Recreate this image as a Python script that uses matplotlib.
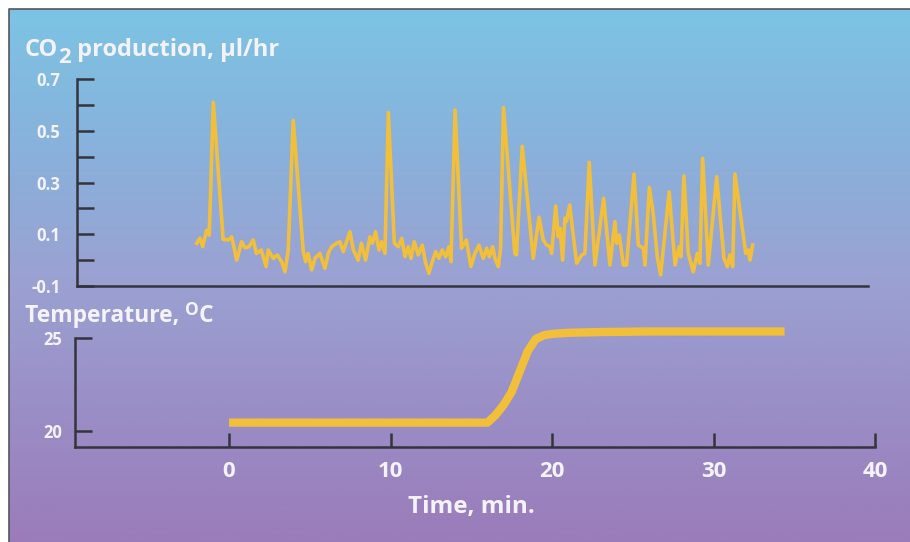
import numpy as np
import matplotlib
matplotlib.use("Agg")
import matplotlib.pyplot as plt
from matplotlib.colors import LinearSegmentedColormap
from matplotlib.lines import Line2D

# CO2 trace (time in min, CO2 in ul/hr)
co2_time = [-2.0, -1.8, -1.63, -1.38, -1.22, -0.97, -0.36, -0.04, 0.17, 0.48,
            0.78, 1.0, 1.24, 1.5, 1.7, 2.0, 2.3, 2.43, 2.74, 3.0,
            3.26, 3.47, 3.67, 3.98, 4.6, 4.75, 4.9, 5.12, 5.33, 5.63,
            5.94, 6.15, 6.36, 6.67, 6.87, 7.08, 7.49, 7.7, 8.0, 8.2,
            8.46, 8.73, 8.88, 9.08, 9.29, 9.45, 9.66, 9.87, 10.24, 10.48,
            10.7, 10.9, 11.1, 11.27, 11.47, 11.72, 11.97, 12.18, 12.38, 12.59,
            12.8, 13.0, 13.2, 13.42, 13.62, 13.75, 14.0, 14.4, 14.7, 14.98,
            15.23, 15.48, 15.75, 15.96, 16.12, 16.33, 16.47, 16.68, 16.82, 17.0,
            17.7, 17.8, 18.16, 18.84, 19.2, 19.46, 19.67, 19.88, 19.98, 20.23,
            20.39, 20.5, 20.66, 20.8, 20.9, 21.1, 21.28, 21.53, 21.84, 22.04,
            22.31, 22.66, 23.2, 23.59, 23.9, 24.0, 24.17, 24.42, 24.62, 25.08,
            25.35, 25.66, 25.76, 26.03, 26.27, 26.52, 26.73, 27.26, 27.62, 27.88,
            27.99, 28.17, 28.44, 28.75, 29.0, 29.16, 29.33, 29.68, 30.2, 30.65,
            30.86, 31.02, 31.19, 31.33, 32.0, 32.16, 32.26, 32.43]
co2_value = [0.065, 0.085, 0.052, 0.116, 0.097, 0.61, 0.08, 0.078, 0.09, 0.0,
             0.071, 0.047, 0.052, 0.078, 0.026, 0.039, -0.025, 0.039, 0.007, 0.02,
             -0.006, -0.045, 0.039, 0.54, 0.033, -0.006, 0.026, -0.038, 0.007, 0.026,
             -0.032, 0.026, 0.052, 0.065, 0.071, 0.033, 0.11, 0.039, 0.0, 0.065,
             0.0, 0.09, 0.065, 0.11, 0.039, 0.071, 0.026, 0.57, 0.065, 0.052,
             0.084, 0.013, 0.052, 0.007, 0.071, 0.02, 0.058, -0.012, -0.051, -0.006,
             0.033, 0.007, 0.039, 0.013, 0.052, -0.006, 0.58, 0.046, 0.078, -0.025,
             0.026, 0.058, 0.007, 0.046, 0.013, 0.052, 0.007, -0.025, 0.046, 0.59,
             0.026, 0.02, 0.44, 0.007, 0.166, 0.078, 0.058, 0.052, 0.026, 0.209,
             0.09, 0.123, 0.0, 0.162, 0.149, 0.213, 0.116, -0.012, 0.02, 0.026,
             0.378, -0.019, 0.239, -0.019, 0.149, 0.065, 0.097, -0.019, -0.019, 0.333,
             0.058, 0.046, -0.019, 0.281, 0.181, 0.013, -0.057, 0.264, -0.019, 0.052,
             0.013, 0.325, 0.026, -0.045, 0.026, -0.012, 0.394, -0.019, 0.322, 0.007,
             -0.025, 0.02, -0.025, 0.333, 0.026, 0.039, 0.0, 0.058]

# temperature trace (time in min, deg C)
temp_time = [0, 16.0, 16.5, 17.0, 17.5, 18.0, 18.5, 19.0, 19.5, 20.0, 21.0, 23.0, 26.0, 34.4]
temp_value = [20.45, 20.45, 20.85, 21.4, 22.1, 23.2, 24.3, 24.95, 25.15, 25.22, 25.28, 25.32, 25.35, 25.35]

co2_ticks = [-0.1, 0.0, 0.1, 0.2, 0.3, 0.4, 0.5, 0.6, 0.7]
co2_labels = ["-0.1", "", "0.1", "", "0.3", "", "0.5", "", "0.7"]
temp_ticks = [20, 25]
time_ticks = [0, 10, 20, 30, 40]

W, H = 910, 542
txt = "#f5f3fa"
axc = "#34343c"
gold = "#f2bf3b"

plt.rcParams['font.family'] = ['Open Sans', 'DejaVu Sans']
plt.rcParams['font.weight'] = 'bold'

fig = plt.figure(figsize=(W / 100, H / 100), dpi=100)
fig.patch.set_facecolor('white')


def box(l, t, r, b):
    # pixel box -> figure fraction
    return [l / W, 1 - b / H, (r - l) / W, (b - t) / H]


# gradient background
bg = fig.add_axes(box(9, 9, W, H), zorder=0)
grad = LinearSegmentedColormap.from_list(
    'bg', ['#7cc4e4', '#88b2dc', '#9aa2d2', '#9a8ec6', '#9a7cba'])
bg.imshow(np.linspace(0, 1, 256)[:, None], aspect='auto', cmap=grad, extent=(0, 1, 0, 1))
bg.set_axis_off()
fig.add_artist(Line2D([9 / W, 9 / W, 1], [0, 1 - 9 / H, 1 - 9 / H], color='#55555c', lw=1.2))

# top panel: CO2
ax1 = fig.add_axes(box(77, 79, 868, 286), zorder=2)
ax1.patch.set_visible(False)
ax1.plot(co2_time, co2_value, color=gold, lw=2.6)
ax1.set_xlim(-9.41, 39.57)
ax1.set_ylim(-0.1, 0.7)
ax1.set_xticks([])
ax1.set_yticks(co2_ticks)
ax1.set_yticklabels(co2_labels)
ax1.tick_params(axis='y', direction='in', length=12, width=1.8, color=axc,
                labelsize=12, labelcolor=txt, pad=12)
for s in ['top', 'right']:
    ax1.spines[s].set_visible(False)
for s in ['left', 'bottom']:
    ax1.spines[s].set_color(axc)
    ax1.spines[s].set_linewidth(1.8)

# bottom panel: temperature
ax2 = fig.add_axes(box(75, 338, 875, 447), zorder=2)
ax2.patch.set_visible(False)
ax2.plot(temp_time, temp_value, color=gold, lw=6, solid_capstyle='butt', clip_on=False)
ax2.set_xlim(-9.54, 40)
ax2.set_ylim(19.14, 25)
ax2.set_xticks(time_ticks)
ax2.set_yticks(temp_ticks)
ax2.tick_params(axis='y', direction='in', length=12, width=1.8, color=axc,
                labelsize=12, labelcolor=txt, pad=9)
ax2.tick_params(axis='x', direction='in', length=10, width=1.8, color=axc,
                labelsize=16, labelcolor=txt, pad=10)
for s in ['top', 'right']:
    ax2.spines[s].set_visible(False)
for s in ['left', 'bottom']:
    ax2.spines[s].set_color(axc)
    ax2.spines[s].set_linewidth(1.8)

# titles
t1 = fig.text(25 / W, 1 - 56 / H, "CO", color=txt, fontsize=17, va='baseline')
t2 = ax1.annotate("2", xy=(1, 0), xycoords=t1, xytext=(0, -4), textcoords='offset points',
                  color=txt, fontsize=16, va='bottom', ha='left', annotation_clip=False)
ax1.annotate(" production, \u00b5l/hr", xy=(1, 0), xycoords=(t2, t1), xytext=(0, 0),
             textcoords='offset points', color=txt, fontsize=17, va='bottom', ha='left',
             annotation_clip=False)

s1 = fig.text(25 / W, 1 - 322 / H, "Temperature, ", color=txt, fontsize=16.5, va='baseline')
s2 = ax2.annotate("O", xy=(1, 1), xycoords=s1, xytext=(0, 2.5), textcoords='offset points',
                  color=txt, fontsize=12.5, va='top', ha='left', annotation_clip=False)
ax2.annotate("C", xy=(1, 0), xycoords=(s2, s1), xytext=(0, 0), textcoords='offset points',
             color=txt, fontsize=16.5, va='bottom', ha='left', annotation_clip=False)

fig.text(471 / W, 1 - 513 / H, "Time, min.", color=txt, fontsize=17.5, ha='center', va='baseline')

fig.savefig("out.png", dpi=100)
